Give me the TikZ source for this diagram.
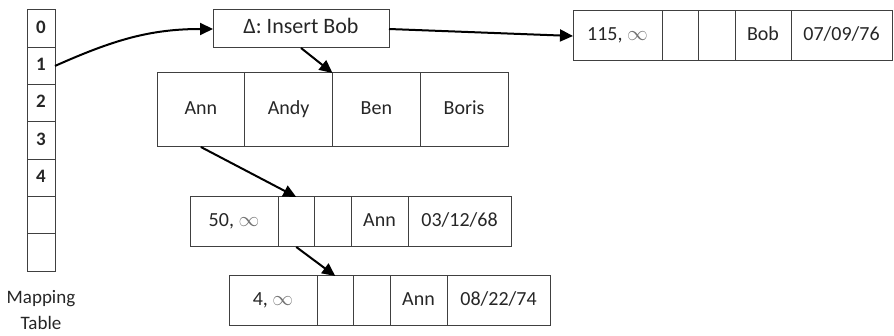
\documentclass[tikz,border=0pt]{standalone}
\usepackage{fontspec}
\setmainfont{Carlito}
\usetikzlibrary{positioning,arrows.meta}

\tikzset{
  cell/.style={draw=black!75, line width=1pt, inner sep=0pt, outer sep=0pt, text=black!85, text height=13pt, text depth=4pt, font=\fontsize{20}{23}\selectfont},
  mapcell/.style={cell, minimum width=28, minimum height=37.3, font=\bfseries\fontsize{19}{21}\selectfont},
  rec/.style={cell, minimum height=50},
  keycell/.style={rec, minimum width=88},
  ptrcell/.style={rec, minimum width=36.5},
  namecell/.style={rec, minimum width=57},
  datecell/.style={rec, minimum width=103},
  pagecell/.style={cell, minimum width=87.75, minimum height=74},
  link/.style={line width=2pt, -{Triangle[length=13pt,width=12pt]}},
}
\newcommand{\inftyg}{{\color{black!55}$\infty$}}

\begin{document}
\begin{tikzpicture}[x=1pt,y=1pt,yscale=-1]
\useasboundingbox (0,0) rectangle (894,336);
% mapping table
\node[mapcell, anchor=north west] (map0) at (27,10) {0};
\node[mapcell, below=0pt of map0] (map1) {1};
\node[mapcell, below=0pt of map1] (map2) {2};
\node[mapcell, below=0pt of map2] (map3) {3};
\node[mapcell, below=0pt of map3] (map4) {4};
\node[mapcell, below=0pt of map4] (map5) {};
\node[mapcell, below=0pt of map5] (map6) {};
\node[text=black!85, font=\fontsize{19}{26}\selectfont, align=center] (maplabel) at (41,310) {Mapping\\Table};
% delta record
\node[cell, minimum width=176, minimum height=38, font=\fontsize{22}{25}\selectfont, anchor=north west] (delta) at (213,10) {Δ: Insert Bob};
% page
\node[pagecell, anchor=north west] (ann) at (157,73) {Ann};
\node[pagecell, right=0pt of ann] (andy) {Andy};
\node[pagecell, right=0pt of andy] (ben) {Ben};
\node[pagecell, right=0pt of ben] (boris) {Boris};
% record Bob
\node[keycell, minimum width=89, anchor=north west] (bobkey) at (573,11) {115, \inftyg};
\node[ptrcell, right=0pt of bobkey] (bobptr) {};
\node[ptrcell, right=0pt of bobptr] (bobptrb) {};
\node[namecell, minimum width=56, right=0pt of bobptrb] (bobname) {Bob};
\node[datecell, minimum width=101, right=0pt of bobname] (bobdate) {07/09/76};
% record Ann, version 50
\node[keycell, anchor=north west] (annakey) at (190,197) {50, \inftyg};
\node[ptrcell, right=0pt of annakey] (annaptr) {};
\node[ptrcell, right=0pt of annaptr] (annaptrb) {};
\node[namecell, right=0pt of annaptrb] (annaname) {Ann};
\node[datecell, right=0pt of annaname] (annadate) {03/12/68};
% record Ann, version 4
\node[keycell, anchor=north west] (annbkey) at (229,276) {4, \inftyg};
\node[ptrcell, right=0pt of annbkey] (annbptr) {};
\node[ptrcell, right=0pt of annbptr] (annbptrb) {};
\node[namecell, right=0pt of annbptrb] (annbname) {Ann};
\node[datecell, right=0pt of annbname] (annbdate) {08/22/74};
% links
\draw[link] (map1.east) to[out=-24,in=180] (delta.west);
\draw[link] (delta.east) -- (bobkey.west);
\draw[link] (delta.south) -- (ben.north west);
\draw[link] (ann.south) -- (annaptr.north);
\draw[link] (annaptr.south) -- (annbptr.north);
\end{tikzpicture}
\end{document}
